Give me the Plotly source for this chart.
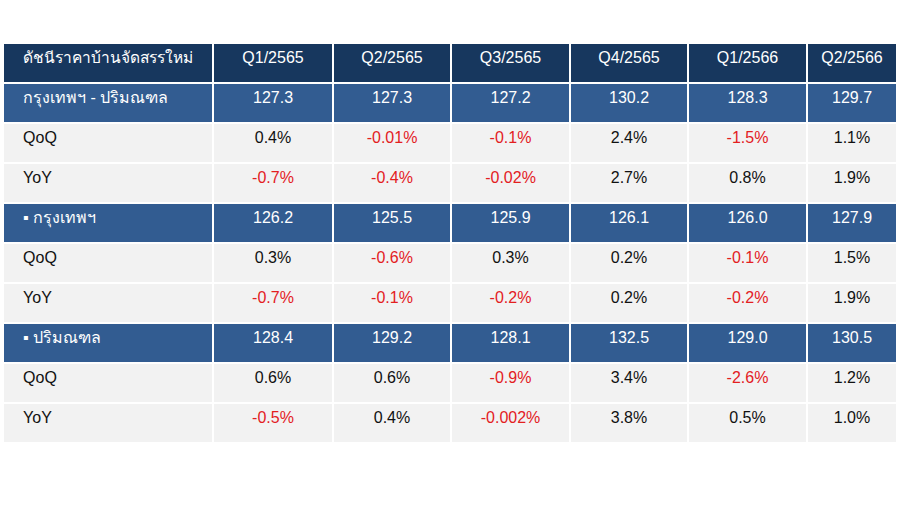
import plotly.graph_objects as go

title = "ดัชนีราคาบ้านจัดสรรใหม่"
quarters = ["Q1/2565", "Q2/2565", "Q3/2565", "Q4/2565", "Q1/2566", "Q2/2566"]

row_labels = ["กรุงเทพฯ - ปริมณฑล", "QoQ", "YoY",
              "▪ กรุงเทพฯ", "QoQ", "YoY",
              "▪ ปริมณฑล", "QoQ", "YoY"]
row_kind = ["index", "pct", "pct", "index", "pct", "pct", "index", "pct", "pct"]

bmr_index = [127.3, 127.3, 127.2, 130.2, 128.3, 129.7]
bmr_qoq = [0.4, -0.01, -0.1, 2.4, -1.5, 1.1]
bmr_yoy = [-0.7, -0.4, -0.02, 2.7, 0.8, 1.9]
bkk_index = [126.2, 125.5, 125.9, 126.1, 126.0, 127.9]
bkk_qoq = [0.3, -0.6, 0.3, 0.2, -0.1, 1.5]
bkk_yoy = [-0.7, -0.1, -0.2, 0.2, -0.2, 1.9]
vic_index = [128.4, 129.2, 128.1, 132.5, 129.0, 130.5]
vic_qoq = [0.6, 0.6, -0.9, 3.4, -2.6, 1.2]
vic_yoy = [-0.5, 0.4, -0.002, 3.8, 0.5, 1.0]

rows = [bmr_index, bmr_qoq, bmr_yoy, bkk_index, bkk_qoq, bkk_yoy,
        vic_index, vic_qoq, vic_yoy]

HEADER = "#17375e"
GROUP = "#325c91"
LIGHT = "#f2f2f2"
RED = "#e3201f"
DARK = "#111111"
FONT = "Liberation Sans, Arial, sans-serif"


def fmt(v, kind):
    if kind == "index":
        return f"{v:.1f}"
    dec = max(1, len(repr(abs(v)).split(".")[1]))
    return f"{v:.{dec}f}%"


pad = "\u00a0\u00a0\u2009"
col0 = [pad + s for s in row_labels]
columns = [col0]
fills = [[GROUP if k == "index" else LIGHT for k in row_kind]]
colors = [["white" if k == "index" else DARK for k in row_kind]]
for j in range(len(quarters)):
    columns.append([fmt(rows[i][j], row_kind[i]) for i in range(len(rows))])
    fills.append([GROUP if k == "index" else LIGHT for k in row_kind])
    colors.append(["white" if k == "index" else (RED if rows[i][j] < 0 else DARK)
                   for i, k in enumerate(row_kind)])

fig = go.Figure(go.Table(
    columnwidth=[210, 120, 118, 119, 118, 119, 90],
    header=dict(
        values=[pad + title] + quarters,
        fill_color=HEADER,
        line=dict(color="white", width=2),
        align=["left"] + ["center"] * 6,
        font=dict(family=FONT, size=[15.5] + [16] * 6, color="white"),
        height=40,
    ),
    cells=dict(
        values=columns,
        fill_color=fills,
        line=dict(color="white", width=2),
        align=["left"] + ["center"] * 6,
        font=dict(family=FONT, size=16, color=colors),
        height=40,
    ),
    domain=dict(x=[0, 1], y=[0, 1]),
))

fig.update_layout(
    width=900, height=506,
    margin=dict(l=3, r=3, t=43, b=63),
    paper_bgcolor="white",
    plot_bgcolor="white",
)

fig.write_html("out.html", config={"displayModeBar": False},
               post_script="document.body.style.margin='0';")
